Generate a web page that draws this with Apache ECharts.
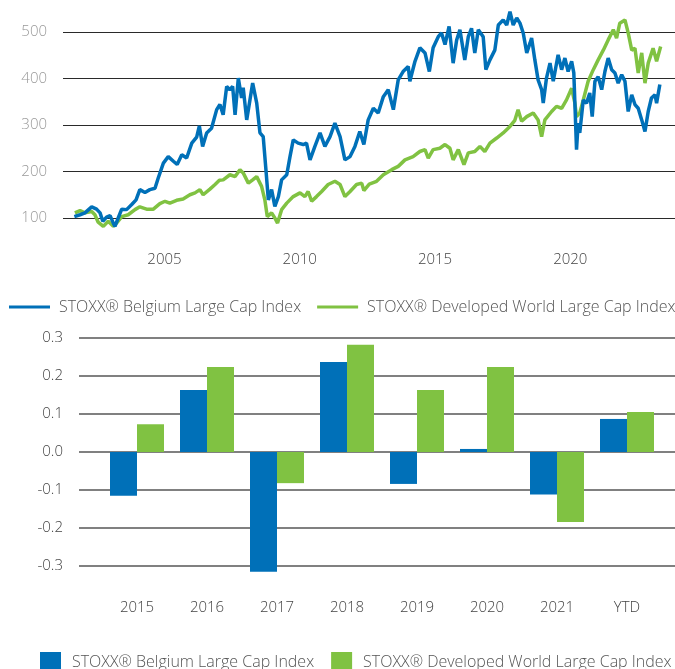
<!DOCTYPE html>
<html>
<head>
<meta charset="utf-8">
<script src="https://cdn.jsdelivr.net/npm/echarts@6/dist/echarts.min.js"></script>
<style>
  html, body { margin: 0; padding: 0; background: #fff; }
  #main { width: 675px; height: 669px; }
</style>
</head>
<body>
<div id="main"></div>
<script>
// index history, dates as decimal years
var belgiumDates = [2001.67, 2001.88, 2002.06, 2002.31, 2002.49, 2002.62, 2002.72, 2002.86, 2002.99, 2003.11, 2003.17, 2003.29, 2003.42, 2003.60, 2003.79, 2003.95, 2004.09, 2004.28, 2004.46, 2004.65, 2004.77, 2004.96, 2005.14, 2005.33, 2005.47, 2005.64, 2005.82, 2006.01, 2006.19, 2006.29, 2006.41, 2006.56, 2006.74, 2006.93, 2007.05, 2007.17, 2007.30, 2007.42, 2007.52, 2007.61, 2007.73, 2007.85, 2007.91, 2008.04, 2008.16, 2008.26, 2008.41, 2008.53, 2008.65, 2008.75, 2008.84, 2008.96, 2009.08, 2009.21, 2009.33, 2009.52, 2009.64, 2009.76, 2009.94, 2010.13, 2010.25, 2010.38, 2010.56, 2010.75, 2010.93, 2011.12, 2011.30, 2011.49, 2011.67, 2011.86, 2012.04, 2012.22, 2012.37, 2012.53, 2012.72, 2012.90, 2013.09, 2013.27, 2013.46, 2013.64, 2013.82, 2014.01, 2014.07, 2014.26, 2014.44, 2014.63, 2014.79, 2014.93, 2015.12, 2015.24, 2015.37, 2015.52, 2015.67, 2015.80, 2015.92, 2016.10, 2016.23, 2016.35, 2016.47, 2016.60, 2016.78, 2016.88, 2017.03, 2017.21, 2017.34, 2017.52, 2017.65, 2017.77, 2017.89, 2018.02, 2018.14, 2018.26, 2018.39, 2018.51, 2018.57, 2018.69, 2018.81, 2018.94, 2019.00, 2019.12, 2019.25, 2019.37, 2019.55, 2019.68, 2019.80, 2019.92, 2020.05, 2020.13, 2020.23, 2020.29, 2020.35, 2020.48, 2020.60, 2020.72, 2020.81, 2020.91, 2021.03, 2021.16, 2021.28, 2021.40, 2021.53, 2021.65, 2021.77, 2021.90, 2022.02, 2022.14, 2022.27, 2022.39, 2022.51, 2022.64, 2022.76, 2022.88, 2023.00, 2023.13, 2023.19, 2023.31];
var belgiumValues = [103, 107, 111, 124, 119, 111, 93, 102, 105, 89, 82, 100, 119, 118, 129, 139, 161, 155, 161, 164, 186, 218, 232, 222, 215, 236, 229, 261, 274, 298, 254, 283, 293, 333, 344, 322, 383, 376, 383, 322, 401, 358, 380, 311, 354, 390, 347, 283, 275, 204, 139, 161, 125, 146, 182, 193, 232, 268, 261, 258, 261, 225, 254, 283, 254, 275, 304, 275, 225, 232, 254, 286, 258, 311, 336, 326, 361, 376, 333, 397, 415, 426, 394, 437, 466, 455, 415, 466, 490, 498, 473, 512, 433, 483, 505, 440, 490, 508, 455, 505, 490, 419, 440, 461, 515, 526, 515, 544, 515, 530, 519, 498, 455, 476, 487, 440, 397, 376, 347, 401, 433, 394, 451, 419, 444, 415, 437, 412, 247, 304, 283, 354, 347, 369, 318, 394, 404, 376, 415, 444, 419, 412, 390, 408, 394, 329, 365, 344, 336, 311, 286, 329, 358, 365, 347, 387];

var worldDates = [2001.69, 2001.88, 2002.06, 2002.31, 2002.43, 2002.55, 2002.74, 2002.92, 2003.11, 2003.23, 2003.42, 2003.66, 2003.91, 2004.09, 2004.34, 2004.59, 2004.83, 2005.02, 2005.20, 2005.45, 2005.69, 2005.94, 2006.13, 2006.31, 2006.43, 2006.68, 2006.87, 2007.03, 2007.17, 2007.42, 2007.61, 2007.79, 2007.91, 2008.10, 2008.26, 2008.41, 2008.59, 2008.71, 2008.80, 2008.96, 2009.08, 2009.18, 2009.33, 2009.52, 2009.76, 2010.01, 2010.19, 2010.31, 2010.44, 2010.62, 2010.81, 2011.05, 2011.30, 2011.49, 2011.67, 2011.86, 2012.10, 2012.29, 2012.37, 2012.57, 2012.84, 2013.09, 2013.40, 2013.64, 2013.89, 2014.19, 2014.44, 2014.63, 2014.75, 2014.93, 2015.18, 2015.37, 2015.55, 2015.67, 2015.86, 2016.07, 2016.23, 2016.47, 2016.66, 2016.84, 2017.03, 2017.28, 2017.52, 2017.77, 2017.95, 2018.07, 2018.20, 2018.39, 2018.63, 2018.81, 2018.94, 2019.06, 2019.31, 2019.49, 2019.68, 2019.86, 2020.05, 2020.17, 2020.23, 2020.35, 2020.48, 2020.66, 2020.85, 2021.03, 2021.22, 2021.40, 2021.59, 2021.71, 2021.83, 2022.02, 2022.14, 2022.27, 2022.39, 2022.51, 2022.64, 2022.76, 2022.88, 2023.06, 2023.19, 2023.34];
var worldValues = [111, 116, 111, 114, 107, 91, 82, 93, 82, 89, 103, 107, 118, 124, 119, 119, 131, 136, 132, 138, 141, 150, 154, 161, 150, 162, 172, 181, 182, 193, 189, 204, 197, 175, 182, 189, 168, 139, 103, 111, 100, 89, 118, 132, 146, 154, 146, 157, 136, 146, 157, 172, 179, 172, 146, 157, 172, 175, 159, 173, 179, 193, 204, 211, 225, 232, 243, 247, 229, 247, 250, 258, 250, 225, 247, 215, 240, 243, 254, 243, 261, 272, 283, 297, 310, 333, 308, 318, 326, 311, 275, 311, 329, 340, 336, 354, 379, 347, 318, 326, 354, 394, 419, 440, 461, 483, 505, 487, 519, 526, 498, 461, 465, 412, 455, 390, 433, 465, 437, 469];

var lineYearTicks = [2005, 2010, 2015, 2020];

// yearly returns
var barYears = ['2015', '2016', '2017', '2018', '2019', '2020', '2021', 'YTD'];
var belgiumReturns = [-0.115, 0.163, -0.315, 0.237, -0.084, 0.008, -0.112, 0.087];
var worldReturns = [0.073, 0.224, -0.082, 0.282, 0.163, 0.224, -0.184, 0.105];

var nameBE = 'STOXX® Belgium Large Cap Index';
var nameWorld = 'STOXX® Developed World Large Cap Index';
var blue = '#0070B8';
var green = '#80C242';
var font = '"Open Sans", "Noto Sans", sans-serif';

function pairs(xs, ys) {
    var out = [];
    for (var i = 0; i < xs.length; i++) {
        out.push([xs[i], ys[i]]);
    }
    return out;
}

var chart = echarts.init(document.getElementById('main'));
var option = {
    animation: false,
    textStyle: { fontFamily: font },
    legend: [
        {
            left: 9,
            top: 299,
            width: 720,
            padding: 0,
            icon: 'rect',
            itemWidth: 41,
            itemHeight: 3,
            itemGap: 16,
            data: [nameBE, nameWorld],
            selectedMode: false,
            textStyle: { fontSize: 16, fontWeight: 300, color: '#555', fontFamily: font, padding: [0, 0, 0, 4] }
        },
        {
            left: 40,
            top: 652,
            width: 720,
            padding: 0,
            icon: 'rect',
            itemWidth: 21,
            itemHeight: 20,
            itemGap: 17,
            data: [nameBE, nameWorld],
            selectedMode: false,
            textStyle: { fontSize: 16, fontWeight: 300, color: '#555', fontFamily: font, padding: [0, 0, 0, 6] }
        }
    ],
    grid: [
        { left: 63, right: 0, top: 32, height: 186, outerBoundsMode: 'none' },
        { left: 79, right: 0, top: 338, height: 228, outerBoundsMode: 'none' },
        { left: 102, right: 13, top: 338, height: 228, outerBoundsMode: 'none' }
    ],
    xAxis: [
        {
            gridIndex: 0,
            type: 'value',
            min: 2001.25,
            max: 2023.87,
            axisLine: { show: false },
            axisTick: { show: false },
            splitLine: { show: false },
            axisLabel: {
                customValues: lineYearTicks,
                formatter: function (v) { return String(Math.round(v)); },
                margin: 34,
                fontSize: 15,
                fontWeight: 300,
                color: '#444'
            }
        },
        {
            gridIndex: 1,
            type: 'value',
            min: 0,
            max: 1,
            show: false
        },
        {
            gridIndex: 2,
            type: 'category',
            data: barYears,
            axisLine: { show: false, onZero: false },
            axisTick: { show: false },
            axisLabel: { margin: 34, fontSize: 15, fontWeight: 300, color: '#444' }
        }
    ],
    yAxis: [
        {
            gridIndex: 0,
            type: 'value',
            min: 100,
            max: 500,
            interval: 100,
            axisLine: { show: false },
            axisTick: { show: false },
            axisLabel: { margin: 16, fontSize: 15, fontWeight: 300, color: '#999' },
            splitLine: { lineStyle: { color: '#2a2a2a', width: 1 } }
        },
        {
            gridIndex: 1,
            type: 'value',
            min: -0.3,
            max: 0.3,
            interval: 0.1,
            axisLine: { show: false },
            axisTick: { show: false },
            axisLabel: {
                margin: 16,
                fontSize: 15,
                fontWeight: 300,
                color: '#444',
                formatter: function (v) {
                    if (Math.abs(v) < 1e-9) return '0.0';
                    return v.toFixed(1);
                }
            },
            splitLine: { lineStyle: { color: '#808080', width: 2 } }
        },
        {
            gridIndex: 2,
            type: 'value',
            min: -0.3,
            max: 0.3,
            show: false,
            splitLine: { show: false }
        }
    ],
    series: [
        {
            name: nameBE,
            type: 'line',
            xAxisIndex: 0,
            yAxisIndex: 0,
            data: pairs(belgiumDates, belgiumValues),
            showSymbol: false,
            clip: false,
            color: blue,
            lineStyle: { color: blue, width: 3.5 },
            z: 3
        },
        {
            name: nameWorld,
            type: 'line',
            xAxisIndex: 0,
            yAxisIndex: 0,
            data: pairs(worldDates, worldValues),
            showSymbol: false,
            clip: false,
            color: green,
            lineStyle: { color: green, width: 3.5 },
            z: 2
        },
        {
            name: nameBE,
            type: 'bar',
            xAxisIndex: 2,
            yAxisIndex: 2,
            data: belgiumReturns,
            barWidth: 27,
            barGap: '0%',
            clip: false,
            itemStyle: { color: blue }
        },
        {
            name: nameWorld,
            type: 'bar',
            xAxisIndex: 2,
            yAxisIndex: 2,
            data: worldReturns,
            barWidth: 27,
            barGap: '0%',
            clip: false,
            itemStyle: { color: green }
        }
    ]
};
chart.setOption(option);
</script>
</body>
</html>
